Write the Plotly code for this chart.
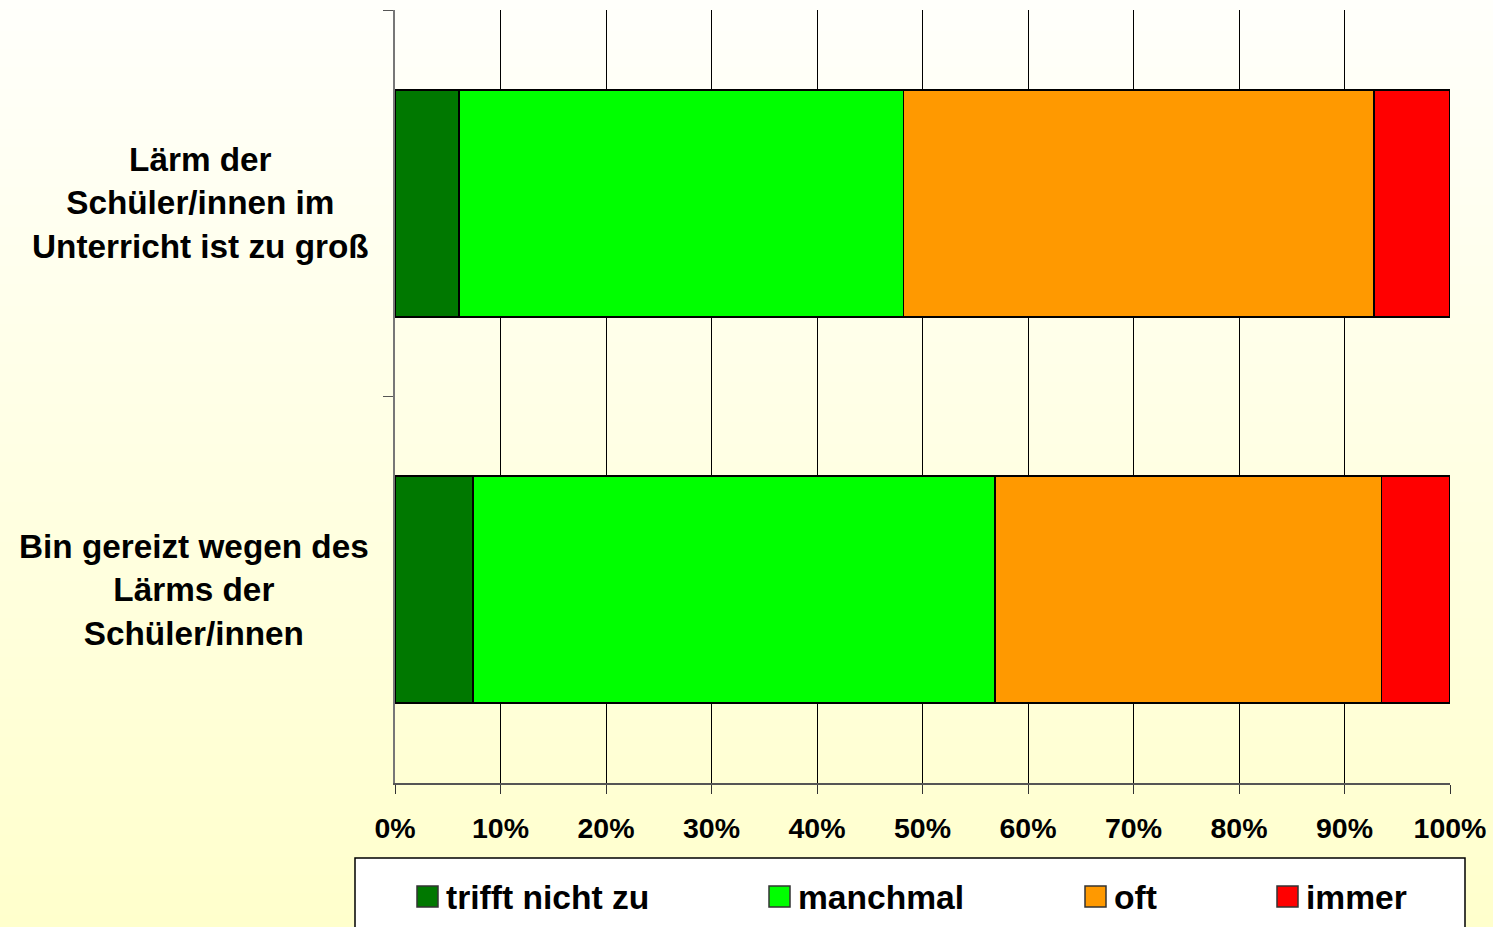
import zlib, struct, base64
import plotly.graph_objects as go

# ---------------- data ----------------
categories = ["Lärm der<br>Schüler/innen im<br>Unterricht ist zu groß",
              "Bin gereizt wegen des<br>Lärms der<br>Schüler/innen"]
series_names = ["trifft nicht zu", "manchmal", "oft", "immer"]
trifft_nicht_zu = [6.1, 7.4]
manchmal = [42.1, 49.5]
oft = [44.6, 36.6]
immer = [7.2, 6.5]
series_values = [trifft_nicht_zu, manchmal, oft, immer]
series_colors = ["#007800", "#00ff00", "#ff9900", "#ff0000"]
x_tick_values = [0, 10, 20, 30, 40, 50, 60, 70, 80, 90, 100]
x_tick_labels = [f"{v}%" for v in x_tick_values]

W, H = 1493, 927
FONT = "Arial, 'Liberation Sans', sans-serif"


def px(x):
    return x / W


def py(y):
    return 1 - y / H


def png_gradient(top, bottom, h=256, w=4):
    rows = b""
    for i in range(h):
        t = i / (h - 1)
        c = bytes(round(top[k] + (bottom[k] - top[k]) * t) for k in range(3))
        rows += b"\x00" + c * w

    def chunk(tag, data):
        return (struct.pack(">I", len(data)) + tag + data +
                struct.pack(">I", zlib.crc32(tag + data) & 0xffffffff))

    ihdr = struct.pack(">IIBBBBB", w, h, 8, 2, 0, 0, 0)
    png = (b"\x89PNG\r\n\x1a\n" + chunk(b"IHDR", ihdr) +
           chunk(b"IDAT", zlib.compress(rows)) + chunk(b"IEND", b""))
    return "data:image/png;base64," + base64.b64encode(png).decode()


fig = go.Figure()
for name, vals, col in zip(series_names, series_values, series_colors):
    fig.add_trace(go.Bar(
        y=categories, x=vals, name=name, orientation="h",
        marker=dict(color=col, line=dict(color="#000000", width=1.8)),
        showlegend=False, hoverinfo="skip",
    ))

annotations = []
# category labels (centered lines, block right-aligned)
for cat in categories:
    annotations.append(dict(
        x=px(371), xref="paper", xanchor="right",
        y=cat, yref="y", yanchor="middle",
        text=cat, showarrow=False, align="center",
        font=dict(family=FONT, size=33.3, color="#000000", weight="bold"),
    ))

shapes = []
# legend box
shapes.append(dict(type="rect", xref="paper", yref="paper",
                   x0=px(355), x1=px(1465), y0=py(935), y1=py(858),
                   fillcolor="#ffffff", line=dict(color="#000000", width=1.5),
                   layer="above"))
swatch_x = [417, 769, 1085, 1277]
for name, col, sx in zip(series_names, series_colors, swatch_x):
    shapes.append(dict(type="rect", xref="paper", yref="paper",
                       x0=px(sx), x1=px(sx + 21), y0=py(907), y1=py(886),
                       fillcolor=col, line=dict(color="#333333", width=1.5),
                       layer="above"))
    annotations.append(dict(
        x=px(sx + 27), xref="paper", xanchor="left",
        y=py(897), yref="paper", yanchor="middle",
        text=name, showarrow=False,
        font=dict(family=FONT, size=33.6, color="#000000", weight="bold"),
    ))

fig.update_layout(
    width=W, height=H,
    margin=dict(l=0, r=0, t=0, b=0, pad=0, autoexpand=False),
    barmode="stack", bargap=0.413,
    paper_bgcolor="#fffff0", plot_bgcolor="rgba(0,0,0,0)",
    showlegend=False,
    font=dict(family=FONT, color="#000000"),
    xaxis=dict(
        domain=[px(395), px(1450)], range=[0, 100], automargin=False,
        tickmode="array", tickvals=x_tick_values, ticktext=x_tick_labels,
        ticks="outside", ticklen=9, tickcolor="#333333", tickwidth=1,
        ticklabelstandoff=10,
        showgrid=True, gridcolor="#000000", gridwidth=1,
        showline=True, linecolor="#555555", linewidth=1.5,
        zeroline=False,
        tickfont=dict(family=FONT, size=28.5, color="#000000", weight="bold"),
        fixedrange=True,
    ),
    yaxis=dict(
        domain=[py(783), py(10)], type="category", autorange="reversed",
        automargin=False,
        showticklabels=False, ticks="outside", tickson="boundaries",
        ticklen=10, tickcolor="#555555", tickwidth=1,
        showgrid=False, showline=True, linecolor="#777777", linewidth=1.5,
        zeroline=False, fixedrange=True,
    ),
    images=[dict(source=png_gradient((255, 255, 251), (255, 255, 204)),
                 xref="paper", yref="paper", x=0, y=1, sizex=1, sizey=1,
                 xanchor="left", yanchor="top", sizing="stretch",
                 layer="below")],
    shapes=shapes,
    annotations=annotations,
)

fig.write_html("out.html")
